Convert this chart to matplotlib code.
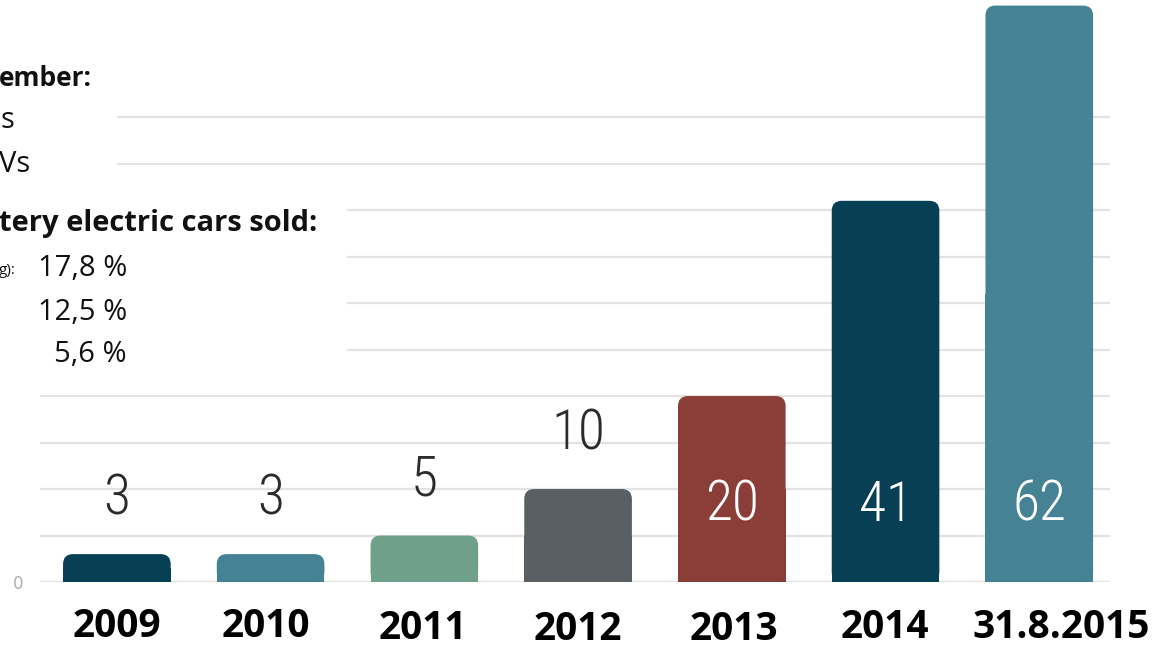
import matplotlib.pyplot as plt
from matplotlib import font_manager
from matplotlib.patches import FancyBboxPatch, Rectangle
from matplotlib.transforms import ScaledTranslation

# data
years = ['2009', '2010', '2011', '2012', '2013', '2014', '31.8.2015']
cars = [3, 3, 5, 10, 20, 41, 62]
bar_colors = ['#073f55', '#448294', '#6fa08a', '#5a5f63',
              '#8b3d37', '#073f55', '#448294']
inside = [False, False, False, False, True, True, True]

# small nudges of the year labels (pixels), as in the original picture
label_dx = [0, -5, -2, 0, 2, -1, 22]
label_dy = [1, 1, -1, -2, -2, 0, 0]

W, H = 1164, 652

installed = set(f.name for f in font_manager.fontManager.ttflist)
num_fonts = [f for f in ['Roboto Condensed', 'Liberation Sans Narrow',
                         'DejaVu Sans Condensed', 'Roboto'] if f in installed]

fig = plt.figure(figsize=(W / 100, H / 100), dpi=100)
ax = fig.add_axes([40 / W, 1 - 582 / H, 1070 / W, 582 / H])

ymax = 62.6
ax.set_xlim(-0.5, 6.46)
ax.set_ylim(0, ymax)

bars = ax.bar(range(len(cars)), cars, width=0.70, color=bar_colors)

# rounded top corners
x_per_px = 6.96 / 1070
y_per_px = ymax / 582
rs = 10 * x_per_px
for b, c in zip(bars, bar_colors):
    b.set_visible(False)
    x0, w, h = b.get_x(), b.get_width(), b.get_height()
    ax.add_patch(FancyBboxPatch((x0, 0), w, h,
                                boxstyle='round,pad=0,rounding_size=%f' % rs,
                                mutation_aspect=y_per_px / x_per_px,
                                fc=c, ec='none', zorder=3))
    ax.add_patch(Rectangle((x0, 0), w, h / 2, fc=c, ec='none', zorder=3))

# value labels
for i, v in enumerate(cars):
    if inside[i]:
        ax.text(i, 5.4, str(v), ha='center', va='bottom', color='white',
                fontsize=40, family=num_fonts, fontstretch='condensed',
                fontweight='light', zorder=4)
    else:
        ax.text(i, v + 3.1, str(v), ha='center', va='bottom', color='#2b2b2b',
                fontsize=40, family=num_fonts, fontstretch='condensed',
                fontweight='light', zorder=4)

ax.set_yticks(range(0, 55, 5))
ax.set_yticklabels(['0'] + [''] * 10)
ax.grid(axis='y', color='#e3e3e3', lw=1.6, zorder=0)
ax.set_axisbelow(True)
ax.tick_params(axis='y', length=0, pad=12, labelcolor='#b0b0b0', labelsize=12)
ax.set_xticks(range(len(years)))
ax.set_xticklabels(years, fontsize=28, fontweight='bold', family='Open Sans')
ax.tick_params(axis='x', length=0, pad=19)
for lab, dx, dy in zip(ax.get_xticklabels(), label_dx, label_dy):
    lab.set_transform(lab.get_transform() + ScaledTranslation(dx / 100, dy / 100, fig.dpi_scale_trans))
for s in ax.spines.values():
    s.set_visible(False)

# white box behind the cut-off note on the left
fig.patches.append(Rectangle((0, 1 - 185 / H), 117 / W, 130 / H,
                             transform=fig.transFigure, fc='white', ec='none', zorder=1))
fig.patches.append(Rectangle((0, 1 - 372 / H), 347 / W, 187 / H,
                             transform=fig.transFigure, fc='white', ec='none', zorder=1))


def ftxt(x, y, s, **kw):
    fig.text(x / W, 1 - y / H, s, va='center', family='Open Sans', color='#111111', zorder=5, **kw)


ftxt(-1, 78, 'ember:', fontsize=19, fontweight='bold')
ftxt(0, 120, 's', fontsize=21)
ftxt(-1, 164, 'Vs', fontsize=21)
ftxt(-1, 224, 'tery electric cars sold:', fontsize=21, fontweight='bold')
ftxt(-1, 270, 'g):', fontsize=11)
ftxt(127, 268, '17,8 %', fontsize=21, ha='right')
ftxt(127, 312, '12,5 %', fontsize=21, ha='right')
ftxt(127, 355, '5,6 %', fontsize=21, ha='right')

fig.savefig('out.png', dpi=100)
